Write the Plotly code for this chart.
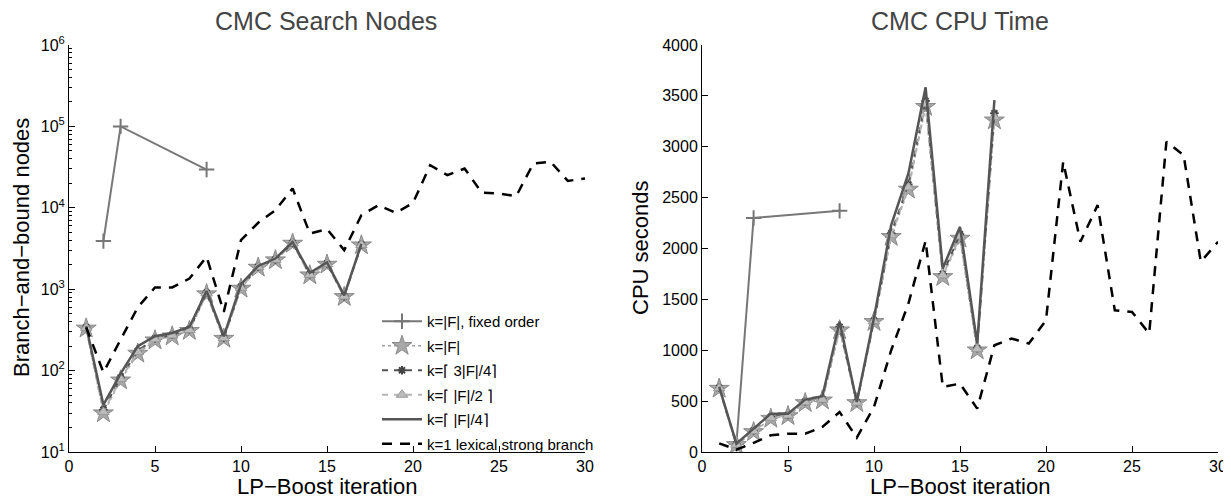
import plotly.graph_objects as go

# ---------------- data ----------------
iters17 = list(range(1, 18))
iters30 = list(range(1, 31))
fixed_iters = [2, 3, 8]

# Left: branch-and-bound nodes
nodes_fixed = [3900, 100000, 29500]
nodes_F = [330, 30, 76, 162, 236, 264, 308, 870, 247, 1020, 1845, 2275, 3640, 1486, 2010, 805, 3470]
nodes_3F4 = [340, 33, 82, 175, 248, 275, 322, 905, 253, 1070, 1880, 2320, 3700, 1520, 2060, 820, 3520]
nodes_F2 = [335, 31, 79, 168, 242, 270, 315, 890, 250, 1040, 1860, 2300, 3670, 1500, 2035, 812, 3490]
nodes_F4 = [350, 38, 92, 200, 264, 290, 344, 950, 264, 1150, 1930, 2380, 3800, 1590, 2130, 840, 3600]
nodes_lex = [340, 95, 240, 600, 1050, 1050, 1350, 2500, 526, 4000, 6550, 9350, 17300, 4830, 5470,
             3020, 8100, 10800, 8650, 11500, 33400, 25200, 30400, 15300, 15000, 13900, 35100, 36700,
             21400, 22900]

# Right: CPU seconds
cpu_fixed = [80, 2300, 2370]
cpu_F = [623, 70, 197, 328, 354, 482, 508, 1197, 482, 1279, 2115, 2580, 3393, 1721, 2098, 1000, 3260]
cpu_3F4 = [630, 75, 210, 345, 362, 495, 520, 1230, 488, 1290, 2150, 2630, 3450, 1750, 2140, 1020, 3330]
cpu_F2 = [626, 72, 203, 335, 358, 488, 514, 1212, 485, 1284, 2130, 2600, 3420, 1735, 2118, 1010, 3290]
cpu_F4 = [640, 82, 230, 377, 377, 515, 548, 1280, 492, 1320, 2230, 2738, 3584, 1803, 2213, 1066, 3459]
cpu_lex = [85, 23, 90, 164, 180, 180, 246, 393, 141, 443, 1000, 1459, 2075, 640, 672, 426, 1049,
           1115, 1066, 1295, 2852, 2066, 2426, 1393, 1377, 1164, 3049, 2918, 1869, 2066]

names = ["k=|F|, fixed order", "k=|F|", "k=⌈ 3|F|/4⌉", "k=⌈ |F|/2 ⌉", "k=⌈ |F|/4⌉",
         "k=1 lexical strong branch"]

log_tickvals = [10, 100, 1000, 10000, 100000, 1000000]
log_ticktext = ["10<sup>1</sup>", "10<sup>2</sup>", "10<sup>3</sup>", "10<sup>4</sup>",
                "10<sup>5</sup>", "10<sup>6</sup>"]

W, H = 1231, 499
OFF = 8  # page body margin in the browser
FONT = "Liberation Sans, Arial, sans-serif"


def px(x):
    return (x - OFF) / W


def py(y):
    return 1 - (y - OFF) / H


fig = go.Figure()


def add_set(xa, ya, fixed, sF, s3, s2, s4, lex, show):
    def c(i):
        return dict(xaxis=xa, yaxis=ya, showlegend=show, legendgroup="g%d" % i)
    fig.add_trace(go.Scatter(x=fixed_iters, y=fixed, name=names[0], mode="lines+markers",
                             line=dict(color="#777777", width=2),
                             marker=dict(symbol="cross-thin", size=11,
                                         line=dict(color="#777777", width=2)), **c(0)))
    fig.add_trace(go.Scatter(x=iters17, y=sF, name=names[1], mode="lines+markers",
                             line=dict(color="#a0a0a0", width=1.5, dash="dot"),
                             marker=dict(symbol="star", size=15, color="#a8a8a8",
                                         line=dict(color="#8a8a8a", width=1)), **c(1)))
    fig.add_trace(go.Scatter(x=iters17, y=s3, name=names[2], mode="lines+markers",
                             line=dict(color="#555555", width=2, dash="6px,6px"),
                             marker=dict(symbol="asterisk", size=7,
                                         line=dict(color="#444444", width=2)), **c(2)))
    fig.add_trace(go.Scatter(x=iters17, y=s2, name=names[3], mode="lines+markers",
                             line=dict(color="#b4b4b4", width=2, dash="6px,6px"),
                             marker=dict(symbol="triangle-up", size=10, color="#bcbcbc",
                                         line=dict(color="#999999", width=1)), **c(3)))
    fig.add_trace(go.Scatter(x=iters17, y=s4, name=names[4], mode="lines",
                             line=dict(color="#555555", width=2.5), **c(4)))
    fig.add_trace(go.Scatter(x=iters30, y=lex, name=names[5], mode="lines",
                             line=dict(color="#000000", width=2.5, dash="10px,8px"), **c(5)))


add_set("x", "y", nodes_fixed, nodes_F, nodes_3F4, nodes_F2, nodes_F4, nodes_lex, True)
add_set("x2", "y2", cpu_fixed, cpu_F, cpu_3F4, cpu_F2, cpu_F4, cpu_lex, False)

ydom = [py(452), py(45)]
axis_common = dict(showline=True, linecolor="black", linewidth=1, ticks="inside", ticklen=6,
                   tickcolor="black", showgrid=False, zeroline=False, automargin=False,
                   tickfont=dict(family=FONT, size=16, color="black"), mirror=False)


def ann(text, x, y, size, color="black", angle=0):
    return dict(text=text, x=px(x), y=py(y), xref="paper", yref="paper", xanchor="center",
                yanchor="middle", textangle=angle, showarrow=False,
                font=dict(family=FONT, size=size, color=color))


fig.update_layout(
    template="none",
    width=W, height=H,
    margin=dict(l=0, r=0, t=0, b=0, autoexpand=False),
    paper_bgcolor="white", plot_bgcolor="white",
    font=dict(family=FONT, color="black"),
    xaxis=dict(domain=[px(69), px(585)], range=[0, 30], dtick=5, anchor="y", **axis_common),
    yaxis=dict(domain=ydom, type="log", range=[1, 6], tickmode="array",
               tickvals=log_tickvals, ticktext=log_ticktext, anchor="x",
               minor=dict(ticks="inside", ticklen=3, tickcolor="black", dtick="D1"),
               **axis_common),
    xaxis2=dict(domain=[px(702), px(1218)], range=[0, 30], dtick=5, anchor="y2", **axis_common),
    yaxis2=dict(domain=ydom, range=[0, 4000], dtick=500, anchor="x2", **axis_common),
    legend=dict(x=px(377), y=py(305), xanchor="left", yanchor="top",
                bgcolor="rgba(0,0,0,0)", borderwidth=0,
                font=dict(family=FONT, size=15, color="black"),
                itemwidth=40, tracegroupgap=2),
    annotations=[
        ann("CMC Search Nodes", 326, 21, 25, "#444444"),
        ann("CMC CPU Time", 960, 21, 25, "#444444"),
        ann("LP−Boost iteration", 327, 486, 22),
        ann("LP−Boost iteration", 960, 486, 22),
        ann("Branch−and−bound nodes", 21, 248, 22, angle=-90),
        ann("CPU seconds", 640, 248, 22, angle=-90),
    ],
)

fig.write_html("out.html")
